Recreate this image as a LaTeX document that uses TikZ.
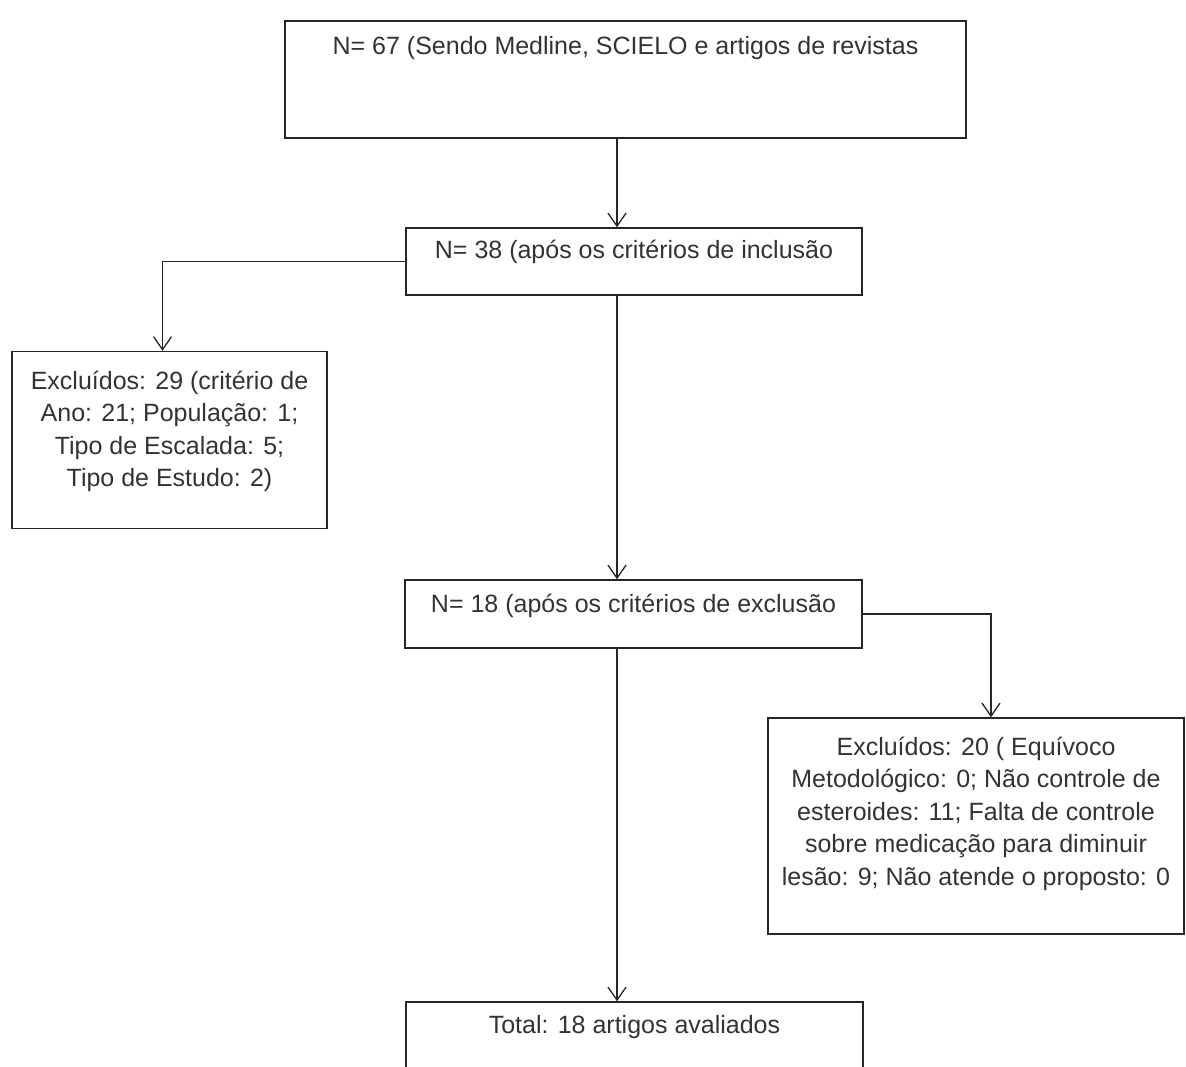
\documentclass[tikz,border=0pt]{standalone}
\usepackage{fontspec}
\setmainfont{Liberation Sans}
\usetikzlibrary{arrows.meta}
\tikzset{
  >={Straight Barb[length=13pt,width=18pt,line width=1.3pt]},
  box/.style={draw=black!85, line width=1.5pt, inner sep=0pt},
  boxtext/.style={anchor=base, align=center, inner sep=0pt, text=black!80,
    font=\fontsize{25}{32.5}\selectfont},
  flow/.style={draw=black!85, line width=1.3pt}
}

\begin{document}
\begin{tikzpicture}[x=1pt,y=-1pt]
    \clip (0,0) rectangle (1186,1066);
    \fill[white] (0,0) rectangle (1186,1066);
    \coordinate (eixo) at (617,0);
    \node[box, minimum width=681pt, minimum height=117pt] (busca) at (625.5,79.5) {};
    \node[boxtext] at ([yshift=-34pt]busca.north) {N= 67 (Sendo Medline, SCIELO e artigos de revistas};
    \node[box, minimum width=456pt, minimum height=67pt] (inclusao) at (634,261.5) {};
    \node[boxtext] at ([yshift=-31pt]inclusao.north) {N= 38 (após os critérios de inclusão};
    \node[box, minimum width=315pt, minimum height=177pt] (excl1) at (169.5,440) {};
    % base = baseline of the last line
    \node[boxtext] at ([yshift=-136pt]excl1.north) {Excluídos: 29 (critério de\\Ano: 21; População: 1;\\Tipo de Escalada: 5;\\Tipo de Estudo: 2)};
    \node[box, minimum width=457pt, minimum height=68pt] (exclusao) at (633.5,614) {};
    \node[boxtext] at ([yshift=-33pt]exclusao.north) {N= 18 (após os critérios de exclusão};
    \node[box, minimum width=416pt, minimum height=216pt] (excl2) at (976,826) {};
    \node[boxtext] at ([yshift=-168pt]excl2.north) {Excluídos: 20 ( Equívoco\\Metodológico: 0; Não controle de\\esteroides: 11; Falta de controle\\sobre medicação para diminuir\\lesão: 9; Não atende o proposto: 0};
    \node[box, minimum width=457pt, minimum height=110pt] (total) at (634.5,1057) {};
    \node[boxtext] at ([yshift=-32pt]total.north) {Total: 18 artigos avaliados};
    \draw[flow,->] (eixo |- busca.south) -- (eixo |- inclusao.north);
    \draw[flow,->] (inclusao.west) -| ([xshift=-7pt]excl1.north);
    \draw[flow,->] (eixo |- inclusao.south) -- (eixo |- exclusao.north);
    \draw[flow,->] (exclusao.east) -| ([xshift=15pt]excl2.north);
    \draw[flow,->] (eixo |- exclusao.south) -- (eixo |- total.north);
\end{tikzpicture}
\end{document}
